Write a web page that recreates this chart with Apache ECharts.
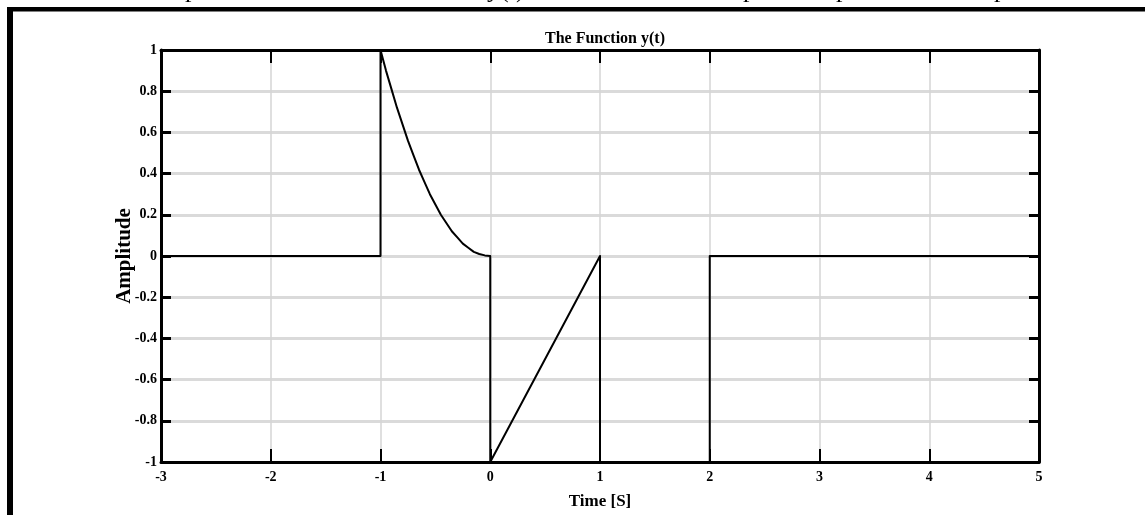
<!DOCTYPE html>
<html>
<head>
<meta charset="utf-8">
<style>
  html, body { margin: 0; padding: 0; background: #fff; }
  #chart { width: 1145px; height: 515px; }
</style>
<script src="https://cdn.jsdelivr.net/npm/echarts@6/dist/echarts.min.js"></script>
</head>
<body>
<div id="chart"></div>
<script>
// ---- Data ----
const titleText = 'The Function y(t)';
const xAxisName = 'Time [S]';
const yAxisName = 'Amplitude';
const xMin = -3, xMax = 5, xStep = 1;
const yMin = -1, yMax = 1, yStep = 0.2;

// y(t): zero, jump to 1 at t=-1, decaying curve to 0 at t=0,
// drop to -1, linear ramp to 0 at t=1, back to -1, -1 until t=2, then 0.
const tValues = [-3, -1, -1, -0.95, -0.9, -0.85, -0.8, -0.75, -0.7, -0.65, -0.6, -0.55, -0.5,
                 -0.45, -0.4, -0.35, -0.3, -0.25, -0.2, -0.15, -0.1, -0.05, 0, 0, 1, 1, 2, 2, 5];
const yValues = [0, 0, 1, 0.9, 0.81, 0.72, 0.64, 0.56, 0.49, 0.42, 0.36, 0.3, 0.25,
                 0.2, 0.16, 0.12, 0.09, 0.06, 0.04, 0.02, 0.01, 0.003, 0, -1, 0, -1, -1, 0, 0];

// cropped fragments of the document text above the frame
const topFragments = ['p', 'y(t)', 'p', 'p', 'p'];

const seriesData = tValues.map((t, i) => [t, yValues[i]]);

const chart = echarts.init(document.getElementById('chart'), null, { renderer: 'canvas' });

const fontFam = '"Liberation Serif", "Times New Roman", serif';
const fragX = [185, 487, 743, 836, 994];

const option = {
  animation: false,
  backgroundColor: '#fff',
  title: {
    text: titleText,
    left: 600,
    textAlign: 'center',
    top: 26,
    textStyle: { fontFamily: fontFam, fontWeight: 'bold', fontSize: 16, color: '#000' }
  },
  grid: { left: 161, right: 106, top: 50, bottom: 52, containLabel: false },
  xAxis: [
    {
      type: 'value', min: xMin, max: xMax, interval: xStep, position: 'bottom',
      name: xAxisName, nameLocation: 'middle', nameGap: 31, nameMoveOverlap: false,
      nameTextStyle: { fontFamily: fontFam, fontWeight: 'bold', fontSize: 17, color: '#000' },
      axisLine: { show: true, onZero: false, lineStyle: { color: '#000', width: 3 } },
      axisTick: { show: true, inside: true, length: 13, lineStyle: { color: '#000', width: 2 } },
      axisLabel: { margin: 8, fontFamily: fontFam, fontWeight: 'bold', fontSize: 14, color: '#000' },
      splitLine: { show: true, lineStyle: { color: '#d4d4d4', width: 1.5 } }
    },
    {
      type: 'value', min: xMin, max: xMax, interval: xStep, position: 'top',
      axisLine: { show: true, onZero: false, lineStyle: { color: '#000', width: 3 } },
      axisTick: { show: true, inside: true, length: 13, lineStyle: { color: '#000', width: 2 } },
      axisLabel: { show: false },
      splitLine: { show: false }
    }
  ],
  yAxis: [
    {
      type: 'value', min: yMin, max: yMax, interval: yStep, position: 'left',
      name: yAxisName, nameLocation: 'middle', nameGap: 26, nameMoveOverlap: false,
      nameTextStyle: { fontFamily: fontFam, fontWeight: 'bold', fontSize: 21, color: '#000' },
      axisLine: { show: true, onZero: false, lineStyle: { color: '#000', width: 3 } },
      axisTick: { show: true, inside: true, length: 10, lineStyle: { color: '#000', width: 3 } },
      axisLabel: {
        margin: 4, fontFamily: fontFam, fontWeight: 'bold', fontSize: 14, color: '#000',
        formatter: v => String(Math.round(v * 10) / 10)
      },
      splitLine: { show: true, lineStyle: { color: '#dadada', width: 3 } }
    },
    {
      type: 'value', min: yMin, max: yMax, interval: yStep, position: 'right',
      axisLine: { show: true, onZero: false, lineStyle: { color: '#000', width: 3 } },
      axisTick: { show: true, inside: true, length: 10, lineStyle: { color: '#000', width: 3 } },
      axisLabel: { show: false },
      splitLine: { show: false }
    }
  ],
  series: [
    {
      type: 'line',
      xAxisIndex: 0, yAxisIndex: 0,
      data: seriesData,
      showSymbol: false,
      symbol: 'none',
      z: 5,
      lineStyle: { color: '#000', width: 2, join: 'round' }
    }
  ],
  graphic: [
    // outer frame (document box)
    { type: 'rect', shape: { x: 7, y: 7, width: 1138, height: 4.5 }, style: { fill: '#000' }, silent: true },
    { type: 'rect', shape: { x: 7, y: 7, width: 6, height: 508 }, style: { fill: '#000' }, silent: true }
  ].concat(topFragments.map((s, i) => ({
    type: 'text', x: fragX[i], y: 3, silent: true,
    style: { text: s, fontFamily: fontFam, fontSize: 26, fill: '#000', verticalAlign: 'bottom', align: 'left' }
  })))
};

chart.setOption(option);
</script>
</body>
</html>
